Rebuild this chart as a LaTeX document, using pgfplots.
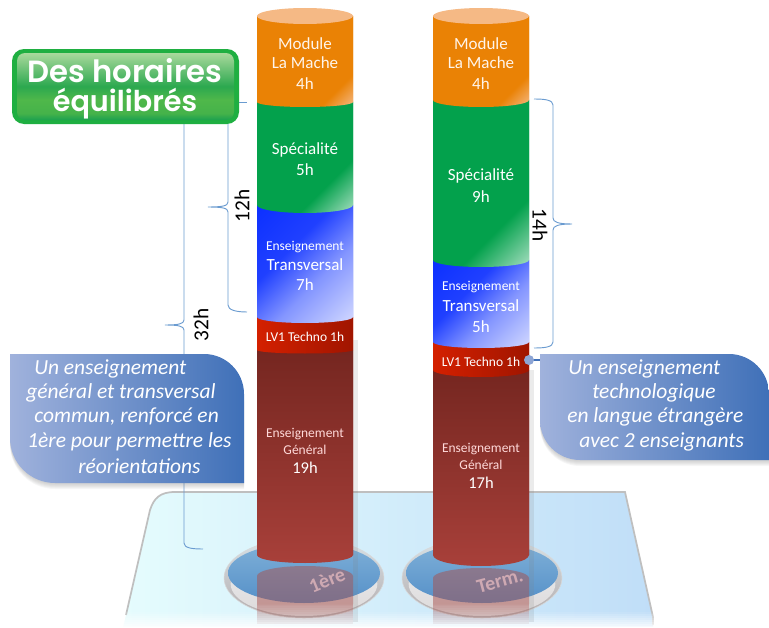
\documentclass[border=0pt]{standalone}
\usepackage{fontspec}
\usepackage{pgfplots}
\pgfplotsset{compat=1.18}
\setmainfont{Carlito}
\newfontfamily\titlefont{Poppins}[UprightFont=* SemiBold]
\definecolor{brace}{HTML}{6A9BD0}
\definecolor{orangeB}{HTML}{EA8205}
\definecolor{orangeT}{HTML}{F5B985}
\definecolor{greenB}{HTML}{03A14C}
\definecolor{blueB}{HTML}{2040FF}
\definecolor{redL}{HTML}{D42000}
\definecolor{redR}{HTML}{A01500}
\definecolor{genT}{HTML}{752620}
\definecolor{genB}{HTML}{A8403A}
\definecolor{callL}{HTML}{A0B2DC}
\definecolor{callR}{HTML}{3F70B8}
\definecolor{plateL}{HTML}{E5FCFD}
\definecolor{plateR}{HTML}{C0DEF8}
\definecolor{discT}{HTML}{7FB0D8}
\definecolor{discB}{HTML}{5590C8}
\definecolor{ringT}{HTML}{D8E2E8}
\definecolor{ringB}{HTML}{B4ACAC}
\definecolor{refl}{HTML}{A8504C}
\pgfdeclareverticalshading{orangeS}{100bp}{color(0bp)=(orangeT!110!white); color(14.6bp)=(orangeT); color(27bp)=(orangeB); color(100bp)=(orangeB)}
\pgfdeclareverticalshading{greenS}{100bp}{color(0bp)=(white); color(14.6bp)=(greenB!35!white); color(33bp)=(greenB); color(100bp)=(greenB)}
\pgfdeclareverticalshading{blueS}{100bp}{color(0bp)=(white); color(14.6bp)=(blueB!20!white); color(40bp)=(blueB!55!white); color(60bp)=(blueB); color(100bp)=(blue!85!cyan)}
\pgfdeclareverticalshading{titleS}{100bp}{rgb(0bp)=(0.11,0.63,0.31); rgb(25bp)=(0.11,0.63,0.31); rgb(30bp)=(0.27,0.70,0.29); rgb(40bp)=(0.31,0.72,0.29); rgb(50bp)=(0.17,0.66,0.31); rgb(75bp)=(0.66,0.85,0.61); rgb(100bp)=(0.66,0.85,0.61)}
% one cylinder segment: xa, xb, side y top, side y bottom, sag, shading options (image pixels, y downward)
\newcommand\seg[6]{%
  \pgfmathsetmacro\yt{628-#3}\pgfmathsetmacro\yb{628-#4}\pgfmathsetmacro\yc{628-#4-#5}%
  \begin{scope}
    \clip (axis cs:#1,\yt) -- (axis cs:#2,\yt) -- (axis cs:#2,\yb) arc[start angle=0,end angle=-180,x radius=36pt,y radius=#5*0.75pt] -- cycle;
    \shade[#6] (axis cs:#1,\yt) rectangle (axis cs:#2,\yc);
  \end{scope}}
\newcommand\lab[4]{\pgfmathsetmacro\fs{#2*0.75}\node[inner sep=0pt,text=#1,font=\fontsize{\fs}{\fs}\selectfont] at (#3) {#4};}
\newcommand\labi[3]{\node[inner sep=0pt,anchor=west,text=white,font=\fontsize{#1}{#1}\selectfont\itshape] at (#2) {#3};}
\begin{document}
\begin{tikzpicture}[x=0.75pt,y=-0.75pt]
\path[use as bounding box] (0,0) rectangle (769,628);
% glass plate
\begin{scope}
\shade[left color=plateL,right color=plateR] (123,628) -- (150,510) .. controls (154,498) and (160,492) .. (175,492) -- (625,492) -- (653,617) -- (653,628) -- cycle;
\draw[gray!50,line width=1.3pt] (126,615) -- (150,510) .. controls (154,498) and (160,492) .. (175,492) -- (625,492) -- (653,617) -- (653,625);
\end{scope}
\foreach \i in {0,...,7}{\fill[white,opacity=0.09+0.11*\i] (100,{612+2*\i}) rectangle (660,{614+2*\i});}
\fill[white] (100,627) rectangle (680,645);
% discs
\foreach \c in {304,482}{
  \shade[top color=ringT,bottom color=ringB,draw=gray!30] (\c,578) ellipse [x radius=60pt,y radius=30pt];
  \fill[white,opacity=0.55] (\c,584) ellipse [x radius=55pt,y radius=24pt];
  \shade[top color=discT,bottom color=discB] (\c,573) ellipse [x radius=57pt,y radius=22.5pt];
}
% shadows and reflections of the cylinders
\fill[gray,opacity=0.16] (353,340) rectangle (358,622);
\fill[gray,opacity=0.16] (529,370) rectangle (534,622);
\foreach \b/\t in {257/576,433/578}{
  \fill[refl,opacity=0.5] (\b,\t) arc[start angle=180,end angle=0,x radius=36pt,y radius=7.5pt] -- ({\b+96},604) -- (\b,604) -- cycle;
  \foreach \i in {0,...,9}{\fill[refl,opacity=0.45-0.04*\i] (\b,{604+2*\i}) rectangle ({\b+96},{606+2*\i});}
}
\node[rotate=22,inner sep=0pt,text=red!20!white,opacity=0.6,font=\fontsize{15}{15}\selectfont\bfseries] at (327,580) {1ère};
\node[rotate=15,inner sep=0pt,text=red!20!white,opacity=0.6,font=\fontsize{15}{15}\selectfont\bfseries] at (500,581) {Term.};
% braces
\draw[brace,line width=0.7pt] (184,120) -- (184,320) .. controls (184,324) and (178,325) .. (165,325) .. controls (178,325) and (184,326) .. (184,330) -- (184,543) .. controls (184,548) and (192,549) .. (203,549);
\draw[brace,line width=0.7pt] (239,102) -- (247,102);
\draw[brace,line width=0.7pt] (228,120) -- (228,202) .. controls (228,206) and (222,207) .. (208,207) .. controls (222,207) and (228,208) .. (228,212) -- (228,305) .. controls (228,310) and (236,312) .. (247,312);
\draw[brace,line width=0.7pt] (534,99) .. controls (545,99) and (553,100) .. (553,105) -- (553,218) .. controls (553,222) and (558,224) .. (572,224) .. controls (558,224) and (553,226) .. (553,230) -- (553,342) .. controls (553,347) and (545,348) .. (534,348);
\begin{axis}[at={(0,0)},anchor=north west,x=0.75pt,y=0.75pt,xmin=0,xmax=769,ymin=0,ymax=628,hide axis,clip=false,
  ybar stacked,reverse stacked plots=false,bar width=72pt,bar shift=0pt]
% spacer up to the foot of the cylinders
\addplot[draw=none,fill=none] coordinates {(305,73) (481,73)};
% Enseignement général
\addplot[draw=none,fill=genB,execute at end plot visualization={
  \seg{257}{353}{350}{555}{8}{top color=genT,bottom color=genB}
  \seg{433}{529}{370}{555}{11}{top color=genT,bottom color=genB}}] coordinates {(305,205) (481,185)};
% LV1 Techno
\addplot[draw=none,fill=redL,execute at end plot visualization={
  \seg{257}{353}{317}{350}{3.5}{left color=redL,right color=redR}
  \seg{433}{529}{342}{370}{7}{left color=redL,right color=redR}}] coordinates {(305,33) (481,28)};
% Enseignement transversal
\addplot[draw=none,fill=blueB,execute at end plot visualization={
  \seg{257}{353}{205}{317}{6}{shading=blueS,shading angle=45}
  \seg{433}{529}{260}{342}{6}{shading=blueS,shading angle=45}}] coordinates {(305,112) (481,82)};
% Spécialité
\addplot[draw=none,fill=greenB,execute at end plot visualization={
  \seg{257}{353}{102}{205}{8}{shading=greenS,shading angle=45}
  \seg{433}{529}{100}{260}{7}{shading=greenS,shading angle=45}}] coordinates {(305,103) (481,160)};
% Module La Mache
\addplot[draw=none,fill=orangeB,execute at end plot visualization={
  \seg{257}{353}{16}{102}{5}{shading=orangeS,shading angle=45}
  \seg{433}{529}{16}{100}{7}{shading=orangeS,shading angle=45}
  \fill[orangeT] (axis cs:305,612) ellipse [x radius=36pt,y radius=6pt];
  \fill[orangeT] (axis cs:481,612) ellipse [x radius=36pt,y radius=6pt];}] coordinates {(305,86) (481,84)};
\end{axis}
% labels on the cylinders
\foreach \c in {305,481}{
  \lab{white!92!orange}{17}{\c,44}{Module}
  \lab{white!92!orange}{17}{\c,63}{La Mache}
  \lab{white!92!orange}{17}{\c,84}{4h}
}
\lab{white}{17}{305,150}{Spécialité}\lab{white}{17}{305,170}{5h}
\lab{white}{17}{481,176}{Spécialité}\lab{white}{17}{481,197}{9h}
\lab{white}{13.5}{305,247}{Enseignement}\lab{white}{17}{305,265}{Transversal}\lab{white}{17}{305,285}{7h}
\lab{white}{13.5}{481,287}{Enseignement}\lab{white}{17}{481,306}{Transversal}\lab{white}{17}{481,327}{5h}
\lab{white}{13.5}{305,337}{LV1 Techno 1h}\lab{white}{13.5}{481,362}{LV1 Techno 1h}
\lab{white!85!red}{13.5}{305,434}{Enseignement}\lab{white!85!red}{13.5}{305,450}{Général}\lab{white}{16.5}{305,468}{19h}
\lab{white!85!red}{13.5}{481,449}{Enseignement}\lab{white!85!red}{13.5}{481,465}{Général}\lab{white}{16.5}{481,483}{17h}
% brace values
\node[rotate=90,inner sep=0pt,font=\fontsize{16}{16}\selectfont] at (242,206) {12h};
\node[rotate=90,inner sep=0pt,font=\fontsize{16}{16}\selectfont] at (201,325) {32h};
\node[rotate=-90,inner sep=0pt,font=\fontsize{16}{16}\selectfont] at (540,225) {14h};
% connector
\draw[callR,line width=1.2pt] (529,360) -- (549,360);
\fill[callL!80!callR] (529,360) circle [radius=3.75pt];
% callout shadows
\foreach \i in {1,...,6}{
  \fill[gray,opacity=0.07] (10,{354+\i+3}) -- (204,{354+\i+3}) arc[start angle=90,end angle=0,radius=30pt] -- (244,{483+\i}) -- (55,{483+\i}) arc[start angle=270,end angle=180,radius=33.75pt] -- cycle;
  \fill[gray,opacity=0.07] (540,{354+\i+3}) -- (729,{354+\i+3}) arc[start angle=90,end angle=0,radius=30pt] -- (769,{460+\i}) -- (580,{460+\i}) arc[start angle=270,end angle=180,radius=30pt] -- cycle;
}
% callouts
\shade[left color=callL,right color=callR] (10,354) -- (204,354) arc[start angle=90,end angle=0,radius=30pt] -- (244,483) -- (55,483) arc[start angle=270,end angle=180,radius=33.75pt] -- cycle;
\shade[left color=callL,right color=callR] (540,354) -- (729,354) arc[start angle=90,end angle=0,radius=30pt] -- (769,460) -- (580,460) arc[start angle=270,end angle=180,radius=30pt] -- cycle;
\labi{16.1}{34,369}{Un enseignement}
\labi{16.1}{26,393}{général et transversal}
\labi{16.1}{34,417}{commun, renforcé en}
\labi{16.1}{27,442}{1ère pour permettre les}
\labi{16.1}{78,466}{réorientations}
\labi{16.1}{568,369}{Un enseignement}
\labi{16.1}{592,393}{technologique}
\labi{16.1}{567,417}{en langue étrangère}
\labi{16.1}{579,442}{avec 2 enseignants}
% title box
\fill[greenB!85!lime,rounded corners=9pt] (12,49) rectangle (239,124);
\shade[shading=titleS,rounded corners=6pt] (17,53) rectangle (234,120);
\node[inner sep=0pt,text=white,font=\fontsize{23}{24}\titlefont] at (125,71) {Des horaires};
\node[inner sep=0pt,text=white,font=\fontsize{21.5}{24}\titlefont] at (125,104) {équilibrés};
\end{tikzpicture}
\end{document}
